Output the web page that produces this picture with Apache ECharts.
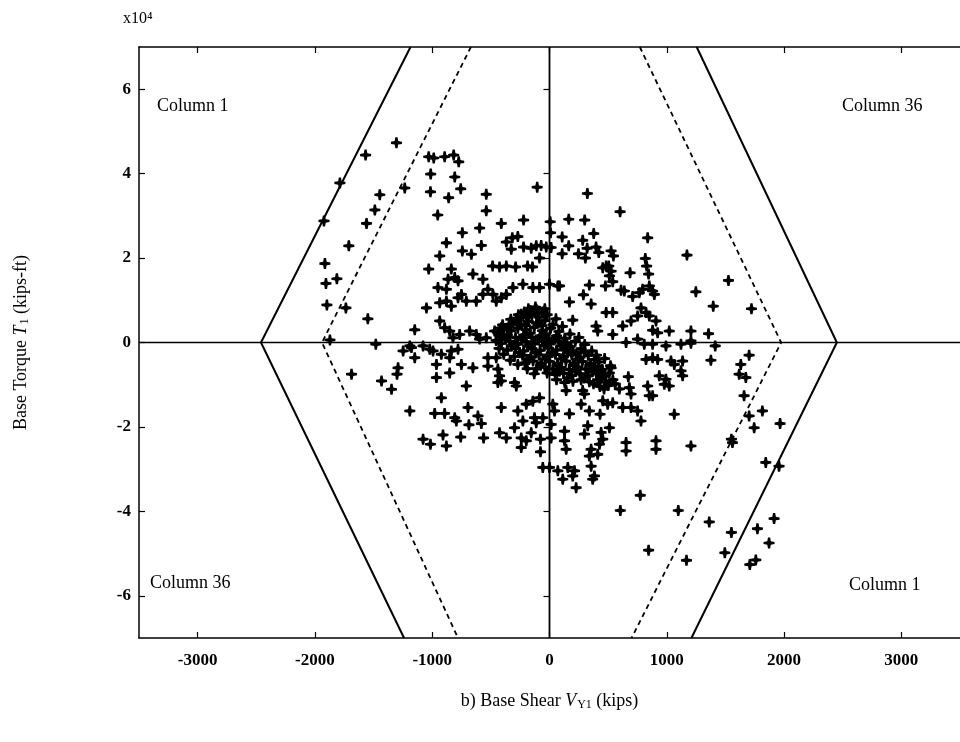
<!DOCTYPE html>
<html><head><meta charset="utf-8">
<script src="https://cdn.jsdelivr.net/npm/echarts@6/dist/echarts.min.js"></script>
<style>html,body{margin:0;padding:0;background:#fff}#c{width:960px;height:742px}</style>
</head><body><div id="c"></div>
<script>
// Axis ticks
const xTicks = [-3000, -2000, -1000, 0, 1000, 2000, 3000];
const yTicks = [-6, -4, -2, 0, 2, 4, 6];
// Points: [base shear V_Y1 (kips), base torque T1 (x10^4 kips-ft)]
const ptsUpperLeft = [[-1568,4.44],[-1787,3.78],[-1923,2.88],[-1560,2.82],[-1489,3.14],[-1447,3.50],[-1234,3.66],[-1711,2.29],[-1915,1.87],[-1906,1.40],[-1813,1.51],[-1898,0.89],[-1736,0.82],[-1549,0.56],[-1872,0.06],[-1481,-0.04],[-1149,0.30],[-1191,-0.08],[-1305,4.73]];
const ptsUpperMid = [[-1030,4.40],[-987,4.37],[-894,4.40],[-817,4.44],[-774,4.28],[-1013,3.99],[-808,3.92],[-1015,3.57],[-860,3.43],[-757,3.64],[-953,3.02],[-539,3.51],[-539,3.12],[-105,3.68],[323,3.53],[602,3.10],[-743,2.60],[-596,2.71],[-411,2.82],[-221,2.90],[6,2.86],[164,2.92],[300,2.90],[-879,2.36],[-936,2.05],[-743,2.17],[-666,2.09],[-581,2.30],[-368,2.38],[-317,2.48],[-270,2.51],[-326,2.21],[-221,2.26],[-156,2.23],[-113,2.29],[-71,2.30],[-28,2.26],[14,2.25],[9,2.60],[108,2.50],[164,2.29],[108,2.10],[-85,2.00],[377,2.58],[283,2.42],[321,2.23],[397,2.26],[420,2.13],[247,2.10],[306,2.00],[525,2.17],[545,2.05],[-1030,1.74],[-837,1.74],[-485,1.81],[-426,1.79],[-368,1.81],[-289,1.79],[-187,1.81],[-145,1.79],[483,1.81]];
const ptsUpperRight = [[837,2.48],[1172,2.07],[454,1.77],[505,1.81],[525,1.69],[511,1.58],[817,1.99],[828,1.81],[845,1.62],[687,1.65],[1526,1.47],[1248,1.20],[85,1.34],[340,1.36],[477,1.34],[539,1.44],[610,1.24],[638,1.22],[709,1.09],[766,1.18],[794,1.26],[851,1.34],[879,1.22],[894,1.14],[289,1.13],[170,0.96],[355,0.91],[1396,0.86],[1722,0.80],[483,0.71],[539,0.71],[780,0.82],[823,0.71],[851,0.63],[198,0.53],[397,0.39],[411,0.27],[624,0.39],[695,0.51],[751,0.63],[908,0.51],[879,0.29],[922,0.23],[1021,0.27],[1206,0.27],[1206,0.04],[1356,0.21],[539,0.19],[653,0.0],[751,0.08],[808,-0.04],[879,-0.04],[993,-0.08],[1121,-0.04],[1206,-0.02],[1413,-0.08],[1702,-0.30],[1376,-0.42],[823,-0.40],[879,-0.36],[922,-0.40],[1036,-0.44],[1064,-0.52],[1135,-0.44],[525,-0.60],[426,-0.68],[468,-0.75]];
const ptsLowerRight = [[672,-0.81],[596,-1.10],[681,-1.07],[695,-1.22],[142,-1.14],[283,-1.14],[298,-1.22],[837,-1.03],[851,-1.26],[879,-1.26],[936,-0.79],[993,-0.87],[1021,-1.03],[979,-0.99],[1121,-0.67],[1135,-0.79],[1631,-0.52],[1617,-0.75],[1674,-0.83],[1659,-1.26],[454,-1.38],[496,-1.46],[539,-1.43],[624,-1.54],[695,-1.54],[751,-1.62],[780,-1.86],[270,-1.46],[340,-1.62],[170,-1.69],[431,-1.70],[1064,-1.70],[1702,-1.74],[1815,-1.62],[1745,-2.02],[1966,-1.92],[326,-1.97],[298,-2.17],[440,-2.13],[511,-2.02],[454,-2.29],[128,-2.10],[128,-2.33],[142,-2.53],[653,-2.37],[653,-2.57],[908,-2.33],[908,-2.53],[1206,-2.45],[1551,-2.29],[1560,-2.37],[355,-2.53],[340,-2.69],[355,-2.93],[383,-3.16],[368,-3.24],[411,-2.65],[426,-2.41],[1844,-2.84],[1957,-2.93],[774,-3.62],[604,-3.98],[1098,-3.98],[1362,-4.25],[1551,-4.50],[1773,-4.41],[1915,-4.17],[1872,-4.75],[1495,-4.98],[1708,-5.26],[1759,-5.15],[845,-4.92],[1168,-5.16]];
const ptsLeftMid = [[-865,1.50],[-808,1.54],[-780,1.46],[-653,1.62],[-568,1.50],[-951,1.30],[-879,1.26],[-1049,0.82],[-936,0.94],[-879,0.98],[-837,0.86],[-780,1.06],[-751,1.14],[-709,0.98],[-624,0.98],[-568,1.14],[-525,1.26],[-482,1.14],[-454,0.98],[-411,1.06],[-368,1.14],[-312,1.30],[-227,1.38],[-142,1.30],[-85,1.30],[0,1.38],[71,1.34],[-936,0.51],[-894,0.35],[-851,0.27],[-823,0.11],[-766,0.19],[-681,0.27],[-624,0.19],[-596,0.08],[-539,0.11],[-468,0.27],[-411,0.35],[-340,0.43],[-283,0.51],[-241,0.67],[-198,0.59],[-170,0.75],[-113,0.79],[-1248,-0.20],[-1177,-0.12],[-1078,-0.08],[-1021,-0.16],[-993,-0.20],[-1149,-0.36],[-922,-0.28],[-837,-0.20],[-851,-0.36],[-780,-0.16],[-964,-0.52],[-851,-0.72],[-751,-0.52],[-653,-0.60],[-964,-0.83],[-709,-1.03],[-525,-0.36],[-454,-0.36],[-525,-0.56],[-440,-0.63],[-426,-0.79],[-440,-0.95],[-411,-0.91],[-298,-0.95],[-283,-1.03],[-922,-1.31],[-1191,-1.62],[-979,-1.68],[-894,-1.68],[-808,-1.78],[-794,-1.86],[-695,-1.54],[-610,-1.74],[-411,-1.54],[-270,-1.62],[-198,-1.46],[-142,-1.39],[-85,-1.31],[-227,-1.86],[-128,-1.78],[-57,-1.78],[28,-1.46],[43,-1.62],[-1688,-0.75],[-1432,-0.91],[-1347,-1.11],[-1291,-0.60],[-1300,-0.75]];
const ptsLowerMid = [[-1078,-2.29],[-1015,-2.41],[-908,-2.19],[-879,-2.45],[-757,-2.24],[-687,-1.95],[-581,-1.92],[-562,-2.26],[-426,-2.14],[-368,-2.26],[-298,-2.02],[-241,-2.26],[-198,-2.33],[-156,-2.14],[-113,-1.90],[-241,-2.49],[-77,-2.29],[-77,-2.59],[14,-1.94],[14,-2.26],[-57,-2.96],[0,-2.96],[71,-3.04],[156,-2.96],[113,-3.24],[198,-3.16],[213,-3.04],[227,-3.44]];
const ptsCore = [[-180,0.80],[-120,0.84],[-60,0.72],[-230,0.62],[-150,0.65],[-90,0.60],[-20,0.66],[-310,0.48],[-250,0.44],[-180,0.50],[-110,0.46],[-40,0.52],[30,0.42],[-390,0.32],[-330,0.28],[-270,0.34],[-200,0.30],[-130,0.36],[-60,0.28],[10,0.34],[80,0.26],[-420,0.14],[-360,0.18],[-290,0.12],[-220,0.18],[-150,0.12],[-80,0.16],[-10,0.10],[60,0.16],[130,0.10],[-410,-0.02],[-340,0.03],[-270,-0.04],[-200,0.02],[-130,-0.03],[-60,0.04],[10,-0.02],[80,0.02],[150,-0.04],[220,0.03],[-360,-0.18],[-290,-0.14],[-220,-0.20],[-150,-0.15],[-80,-0.19],[-10,-0.13],[60,-0.18],[130,-0.14],[200,-0.20],[270,-0.15],[-300,-0.33],[-230,-0.30],[-160,-0.35],[-90,-0.29],[-20,-0.34],[50,-0.28],[120,-0.33],[190,-0.29],[260,-0.35],[330,-0.30],[-210,-0.48],[-140,-0.44],[-70,-0.49],[0,-0.45],[70,-0.50],[140,-0.44],[210,-0.49],[280,-0.45],[350,-0.50],[420,-0.46],[-110,-0.62],[-40,-0.58],[30,-0.63],[100,-0.59],[170,-0.64],[240,-0.58],[310,-0.63],[380,-0.59],[450,-0.64],[50,-0.76],[120,-0.73],[190,-0.78],[260,-0.74],[330,-0.79],[400,-0.74],[470,-0.80],[200,-0.92],[270,-0.88],[340,-0.93],[410,-0.89],[480,-0.94],[540,-0.88],[430,-1.04],[500,-1.02],
  [-215,0.72],[-95,0.70],[-285,0.56],[-205,0.40],[-65,0.40],[-345,0.38],[-165,0.22],[-35,0.20],[-375,0.08],[-235,0.08],[-95,0.06],[35,0.06],[105,-0.08],[175,-0.10],[-325,-0.08],[-185,-0.08],[-45,-0.07],[-255,-0.24],[-115,-0.24],[25,-0.23],[155,-0.24],[235,-0.25],[300,-0.22],[-175,-0.40],[-35,-0.39],[105,-0.39],[245,-0.40],[385,-0.40],[-75,-0.54],[65,-0.54],[205,-0.54],[345,-0.54],[415,-0.56],[85,-0.68],[225,-0.68],[365,-0.69],[155,-0.84],[295,-0.84],[435,-0.84],[375,-0.98],[465,-1.10],
  [-440,0.22],[-455,0.05],[-400,0.42],[-330,0.55],[-265,0.66],[-160,0.75],[-40,0.80],[55,0.56],[110,0.38],[175,0.20],[250,0.12],[300,-0.05],[360,-0.20],[400,-0.30],[470,-0.38],[520,-0.55],[510,-0.72],[560,-0.98],[-430,-0.14],[-390,-0.28],[-335,-0.42],[-270,-0.52],[-190,-0.62],[-130,-0.74],[-20,-0.72],[60,-0.88],[130,-0.95]];
// Envelope lines (kips, x10^4 kips-ft)
const solidLeft = [[-1185,7],[-2460,0],[-1240,-7]];
const solidRight = [[1255,7],[2450,0],[1210,-7]];
const dashedLeft = [[-670,7],[-1940,0],[-780,-7]];
const dashedRight = [[770,7],[1975,0],[700,-7]];
const zeroH = [[-3500,0],[3500,0]];
const zeroV = [[0,-7],[0,7]];

const allPts = [].concat(ptsUpperLeft, ptsUpperMid, ptsUpperRight, ptsLowerRight, ptsLeftMid, ptsLowerMid, ptsCore);
const SERIF = '"Liberation Serif", "DejaVu Serif", serif';
const chart = echarts.init(document.getElementById('c'));
function lineSeries(data, type, width){
  return {type:'line', data:data, showSymbol:false, symbol:'none', silent:true, animation:false,
    lineStyle:{color:'#000', width:width, type:type, opacity:1}, z:3};
}
const tickLabel = {fontFamily:SERIF, fontSize:17, fontWeight:'bold', color:'#000', formatter:function(v){return String(v);}};
const richName = {
  n:{fontFamily:SERIF, fontSize:18, color:'#000'},
  i:{fontFamily:SERIF, fontSize:18, fontStyle:'italic', color:'#000'},
  s:{fontFamily:SERIF, fontSize:12, color:'#000', padding:[7,0,0,1]}
};
chart.setOption({
  animation:false,
  backgroundColor:'#fff',
  grid:{left:139, right:-2, top:47, bottom:104},
  xAxis:[{
    type:'value', min:-3500, max:3500, position:'bottom',
    axisLine:{show:true, onZero:false, lineStyle:{color:'#000', width:1.5}},
    axisTick:{show:true, inside:true, length:6, customValues:xTicks, lineStyle:{color:'#000', width:1.2}},
    axisLabel:Object.assign({customValues:xTicks, margin:14}, tickLabel),
    splitLine:{show:false},
    name:'{n|b) Base Shear }{i|V}{s|Y1}{n| (kips)}', nameLocation:'middle', nameGap:54,
    nameTextStyle:{rich:richName}
  },{
    type:'value', min:-3500, max:3500, position:'top',
    axisLine:{show:true, onZero:false, lineStyle:{color:'#000', width:1.5}},
    axisTick:{show:true, inside:true, length:6, customValues:xTicks, lineStyle:{color:'#000', width:1.2}},
    axisLabel:{show:false}, splitLine:{show:false}
  }],
  yAxis:[{
    type:'value', min:-7, max:7, position:'left',
    axisLine:{show:true, onZero:false, lineStyle:{color:'#000', width:1.5}},
    axisTick:{show:true, inside:true, length:6, customValues:yTicks, lineStyle:{color:'#000', width:1.2}},
    axisLabel:Object.assign({customValues:yTicks, margin:8}, tickLabel),
    splitLine:{show:false},
    name:'{n|Base Torque }{i|T}{s|1}{n| (kips-ft)}', nameLocation:'middle', nameGap:108, nameRotate:90,
    nameTextStyle:{rich:richName}
  },{
    type:'value', min:-7, max:7, position:'right',
    axisLine:{show:false},
    axisTick:{show:true, inside:true, length:6, customValues:yTicks, lineStyle:{color:'#000', width:1.2}},
    axisLabel:{show:false}, splitLine:{show:false}
  }],
  graphic:[
    {type:'text', left:123, top:11, style:{text:'x10⁴', font:'16px ' + SERIF, fill:'#000'}},
    {type:'text', left:157, top:97, style:{text:'Column 1', font:'18px ' + SERIF, fill:'#000'}},
    {type:'text', left:842, top:97, style:{text:'Column 36', font:'18px ' + SERIF, fill:'#000'}},
    {type:'text', left:150, top:574, style:{text:'Column 36', font:'18px ' + SERIF, fill:'#000'}},
    {type:'text', left:849, top:576, style:{text:'Column 1', font:'18px ' + SERIF, fill:'#000'}}
  ],
  series:[
    lineSeries(zeroH, 'solid', 1.5),
    lineSeries(zeroV, 'solid', 1.8),
    lineSeries(solidLeft, 'solid', 2),
    lineSeries(solidRight, 'solid', 2),
    lineSeries(dashedLeft, [5,4], 1.8),
    lineSeries(dashedRight, [5,4], 1.8),
    {type:'scatter', data:allPts, symbol:'path://M4 0H6L6.6 3.4L10 4V6L6.6 6.6L6 10H4L3.4 6.6L0 6V4L3.4 3.4Z',
     symbolSize:11, itemStyle:{color:'#000', opacity:1}, silent:true, z:4, animation:false}
  ]
});
</script></body></html>
